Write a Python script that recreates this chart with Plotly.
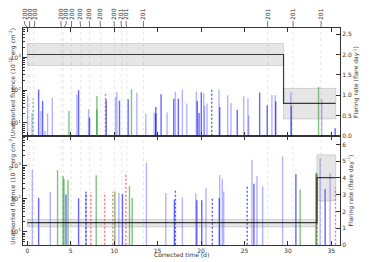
import plotly.graph_objects as go

# ---------------- data ----------------
years = ["2000", "2001", "2002", "2003", "2004", "2005", "2006", "2007",
         "2008", "2009", "2010", "2011", "2012", "2013", "2014", "2015"]
year_t = [0.05, 0.26, 0.72, 3.91, 4.17, 5.06, 6.17, 7.17, 8.47, 10.03,
          10.88, 11.46, 13.37, 27.67, 30.6, 33.8]
label_t = [-0.31, 0.26, 0.84, 3.87, 4.48, 5.09, 6.09, 7.16, 8.39, 10.0,
           10.8, 11.38, 13.37, 27.67, 30.6, 33.83]

# top panel fluences
top_lb_t = [0.03, 0.54, 1.57, 2.03, 2.33, 2.87, 5.06, 5.71, 7.05, 10.15, 10.31, 12.61,
            13.64, 14.6, 16.09, 17.05, 17.85, 18.36, 19.46, 20.31, 20.4, 20.69, 22.07,
            23.07, 23.45, 24.91, 25.4, 25.48, 28.16, 28.54, 30.34, 33.9]
top_lb_v = [70, 20, 23, 5.7, 19.6, 58, 4.4, 74, 26.5, 63, 87, 85,
            19, 21, 21, 91, 105, 39, 91, 81, 33, 39, 105,
            70, 41, 66, 57, 17, 72, 72, 85, 53]
top_blue_t = [1.3, 1.76, 5.9, 7.16, 9.08, 10.61, 11.61, 14.79, 14.79, 15.4, 16.86, 17.39,
              19.57, 19.77, 20.03, 22.15, 24.17, 26.75, 27.62, 28.6, 30.4, 35.44]
top_blue_v = [105, 47, 100, 14.5, 52, 48, 53, 31, 19.6, 75, 55, 55,
              47, 20, 87, 31, 25, 85, 35, 45, 33, 6.9]
top_green_t = [4.79, 8.01, 8.01, 11.99, 33.53]
top_green_v = [23, 67, 26, 107, 126]
top_greendash_t = [0.66]
top_greendash_v = [56]
top_red_t = [9.0]
top_red_v = [80]
top_bluedash_t = [21.23]
top_bluedash_v = [107]

# bottom panel fluences
bot_lb_t = [0.57, 2.64, 6.75, 10.54, 13.71, 15.94, 17.85, 19.39, 20.57, 22.15, 22.45,
            22.61, 25.86, 26.44, 27.09, 29.39, 33.71, 34.86]
bot_lb_v = [775, 162, 162, 150, 1230, 150, 108, 148, 210, 530, 405,
            166, 1530, 480, 240, 1940, 1650, 590]
bot_blue_t = [1.3, 4.45, 5.9, 10.95, 16.93, 19.51, 20.08, 22.1, 26.09, 30.92, 34.29]
bot_blue_v = [106, 135, 104, 140, 94, 90, 90, 106, 285, 565, 196]
bot_green_t = [3.48, 4.10, 4.22, 4.68, 7.93, 10.08, 11.76, 12.07, 31.41, 33.22, 33.30]
bot_green_v = [740, 500, 398, 380, 515, 166, 242, 108, 192, 620, 600]
bot_red_t = [7.32, 8.89, 9.85, 11.34, 33.37, 35.48]
bot_red_v = [158, 155, 162, 540, 565, 220]
bot_bluedash_t = [6.75, 17.05, 21.3, 25.32]
bot_bluedash_v = [162, 186, 114, 265]

# flaring-rate step functions
top_edges = [0.0, 29.5, 35.5]
top_rate = [2.0, 0.8]
top_lo = [1.73, 0.42]
top_hi = [2.27, 1.17]
bot_edges = [0.0, 33.35, 35.5]
bot_rate = [1.34, 4.02]
bot_lo = [1.08, 2.63]
bot_hi = [1.52, 5.38]

# ---------------- figure ----------------
FONT = "DejaVu Sans"
AX = "#333333"
BASE = 1.0

fig = go.Figure()


def vlines(ts, vs, xa, ya, color, dash="solid", width=1.4):
    xs, ys = [], []
    for t, v in zip(ts, vs):
        xs += [t, t, None]
        ys += [BASE, v, None]
    fig.add_trace(go.Scatter(x=xs, y=ys, mode="lines", xaxis=xa, yaxis=ya,
                             line=dict(color=color, width=width, dash=dash),
                             showlegend=False, hoverinfo="skip"))


LB = "rgba(0,0,255,0.3)"
BL = "rgba(0,0,255,0.6)"
GR = "rgba(0,140,0,0.5)"
RD = "rgba(255,0,0,0.55)"
BD = "rgba(0,0,255,0.65)"
DASH = "2px,2px"

# top panel bars
vlines(top_lb_t, top_lb_v, "x2", "y3", LB)
vlines(top_blue_t, top_blue_v, "x2", "y3", BL)
vlines(top_green_t, top_green_v, "x2", "y3", GR)
vlines(top_greendash_t, top_greendash_v, "x2", "y3", GR, DASH)
vlines(top_red_t, top_red_v, "x2", "y3", RD, DASH)
vlines(top_bluedash_t, top_bluedash_v, "x2", "y3", BD, DASH)
# bottom panel bars
vlines(bot_lb_t, bot_lb_v, "x", "y", LB)
vlines(bot_blue_t, bot_blue_v, "x", "y", BL)
vlines(bot_green_t, bot_green_v, "x", "y", GR)
vlines(bot_red_t, bot_red_v, "x", "y", RD, DASH)
vlines(bot_bluedash_t, bot_bluedash_v, "x", "y", BD, DASH)


def rate_panel(edges, rate, lo, hi, xa, ya):
    for i in range(len(rate)):
        x0, x1 = edges[i], edges[i + 1]
        fig.add_trace(go.Scatter(x=[x0, x1, x1, x0, x0], y=[lo[i], lo[i], hi[i], hi[i], lo[i]],
                                 mode="lines", fill="toself", xaxis=xa, yaxis=ya,
                                 fillcolor="rgba(128,128,128,0.2)",
                                 line=dict(color="rgba(128,128,128,0.35)", width=0.8),
                                 showlegend=False, hoverinfo="skip"))
    fig.add_trace(go.Scatter(x=edges, y=rate + [rate[-1]], mode="lines", line_shape="hv",
                             xaxis=xa, yaxis=ya, line=dict(color="rgba(0,0,0,0.75)", width=1.2),
                             showlegend=False, hoverinfo="skip"))


rate_panel(top_edges, top_rate, top_lo, top_hi, "x2", "y4")
rate_panel(bot_edges, bot_rate, bot_lo, bot_hi, "x", "y2")

# invisible trace so that the top (calendar-year) axis is drawn
fig.add_trace(go.Scatter(x=label_t, y=[10] * len(label_t), mode="markers", xaxis="x3", yaxis="y3",
                         marker=dict(opacity=0), showlegend=False, hoverinfo="skip"))

# year marker lines and connectors
shapes = []
for yt, lt in zip(year_t, label_t):
    shapes.append(dict(type="line", xref="x", yref="paper", x0=yt, x1=yt, y0=0, y1=1,
                       line=dict(color="rgba(190,190,190,0.45)", width=0.8, dash="dot"),
                       layer="below"))
    shapes.append(dict(type="path", xref="x", yref="paper",
                       path=f"M {yt},1 L {lt},{1 + 4 / 217} L {lt},{1 + 7 / 217}",
                       line=dict(color="#555555", width=0.8)))

minor_vals = [m * 10 ** d for d in range(0, 4) for m in range(2, 10)]
logtick = dict(type="log", range=[0.6, 3.9], tickvals=[10, 100, 1000],
               ticktext=["10<sup>1</sup>", "10<sup>2</sup>", "10<sup>3</sup>"],
               ticks="inside", ticklen=4, showline=True, linecolor=AX, linewidth=1,
               tickcolor=AX, showgrid=False, zeroline=False, automargin=False,
               minor=dict(tickvals=minor_vals, ticks="inside", ticklen=2, tickcolor=AX),
               tickfont=dict(size=6, color=AX, family=FONT))
ratetick = dict(ticks="inside", ticklen=4, showline=True, linecolor=AX, linewidth=1,
                tickcolor=AX, showgrid=False, zeroline=False, side="right", automargin=False,
                tickfont=dict(size=6, color=AX, family=FONT))
xtick = dict(range=[-0.5, 36.0], ticks="inside", ticklen=4, showline=True, linecolor=AX,
             linewidth=1, tickcolor=AX, showgrid=False, zeroline=False, automargin=False,
             tickvals=[0, 5, 10, 15, 20, 25, 30, 35], mirror="ticks",
             tickfont=dict(size=6, color=AX, family=FONT))

ytitle_l = "Unabsorbed fluence (10<sup>-10</sup> erg cm<sup>-2</sup>)"
ytitle_r = "Flaring rate (flare day<sup>-1</sup>)"
tfont = dict(size=6, color=AX, family=FONT)

# the page body adds an 8 px offset, so the figure is 8 px smaller on each axis
fig.update_layout(
    width=373, height=254,
    margin=dict(l=15, r=41, t=20, b=17),
    paper_bgcolor="white", plot_bgcolor="white",
    font=dict(family=FONT, size=6, color=AX),
    showlegend=False,
    shapes=shapes,
    annotations=[dict(text="Corrected time (d)", xref="paper", yref="paper", x=0.5, y=-0.046,
                      xanchor="center", yanchor="middle", showarrow=False, font=tfont,
                      borderpad=0)],
    xaxis=dict(**xtick, domain=[0, 1], anchor="y"),
    xaxis2=dict(**xtick, domain=[0, 1], anchor="y3", showticklabels=False),
    xaxis3=dict(range=[-0.5, 36.0], overlaying="x2", side="top", anchor="y3",
                tickvals=label_t, ticktext=years, tickangle=-90, ticks="",
                ticklabelstandoff=7, showgrid=False, zeroline=False, showline=False,
                automargin=False, tickfont=dict(size=6, color=AX, family=FONT)),
    yaxis=dict(**logtick, domain=[0, 0.502], anchor="x",
               title=dict(text=ytitle_l, font=tfont, standoff=2)),
    yaxis2=dict(**ratetick, range=[0, 6.5], dtick=1, overlaying="y", anchor="x",
                title=dict(text=ytitle_r, font=tfont, standoff=2)),
    yaxis3=dict(**logtick, domain=[0.502, 1], anchor="x2",
                title=dict(text=ytitle_l, font=tfont, standoff=2)),
    yaxis4=dict(**ratetick, range=[0, 2.65], tickvals=[0, 0.5, 1.0, 1.5, 2.0, 2.5],
                tickformat=".1f", overlaying="y3", anchor="x2",
                title=dict(text=ytitle_r, font=tfont, standoff=2)),
)

fig.write_html("out.html")
